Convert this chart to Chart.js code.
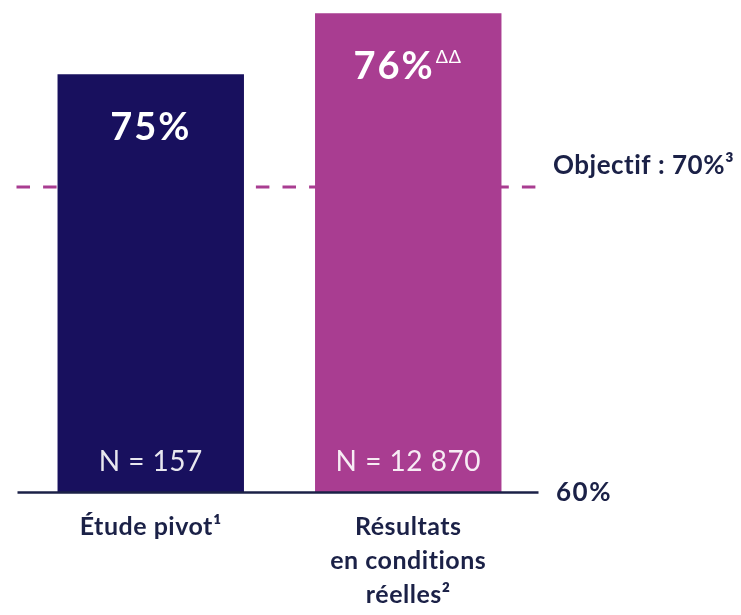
<!DOCTYPE html>
<html>
<head>
<meta charset="utf-8">
<script src="https://cdn.jsdelivr.net/npm/chart.js@4.4.1/dist/chart.umd.min.js"></script>
<style>
  html, body { margin: 0; padding: 0; background: #fff; }
  #wrap { width: 741px; height: 615px; }
</style>
</head>
<body>
<div id="wrap"><canvas id="chart"></canvas></div>
<script>
const categories = [['Étude pivot¹'], ['Résultats', 'en conditions', 'réelles²']];
const valueLabels = ['75%', '76%'];
const valueMarks = ['', 'ΔΔ'];
// bar tops as drawn in the source (not to scale), read against the 60% and 70% lines
const barValues = [73.7, 75.7];
const sampleSizes = ['N = 157', 'N = 12 870'];
const barColors = ['#18105e', '#a93d91'];
const axisMin = 60;
const axisMax = 76;
const targetValue = 70;
const targetLabel = 'Objectif : 70%³';
const baseLabel = '60%';

const navy = '#1b2147';
const font = 'Lato, "Open Sans", sans-serif';

const overlay = {
  id: 'overlay',
  beforeDatasetsDraw(chart) {
    const { ctx, chartArea, scales: { y } } = chart;
    const yt = y.getPixelForValue(targetValue);
    ctx.save();
    ctx.strokeStyle = '#a93d91';
    ctx.lineWidth = 3;
    ctx.setLineDash([13.5, 13.1]);
    ctx.beginPath();
    ctx.moveTo(chartArea.left - 5.5, yt);
    ctx.lineTo(chartArea.right + 2, yt);
    ctx.stroke();
    ctx.restore();
  },
  afterDatasetsDraw(chart) {
    const { ctx, chartArea, scales: { y } } = chart;
    const meta = chart.getDatasetMeta(0);
    const yBase = y.getPixelForValue(axisMin);
    const yt = y.getPixelForValue(targetValue);
    ctx.save();

    // baseline
    ctx.strokeStyle = navy;
    ctx.lineWidth = 2.5;
    ctx.beginPath();
    ctx.moveTo(chartArea.left - 4.5, yBase + 0.5);
    ctx.lineTo(chartArea.right + 1.5, yBase + 0.5);
    ctx.stroke();

    ctx.textBaseline = 'middle';
    meta.data.forEach((bar, i) => {
      // value label (with optional superscript mark)
      ctx.letterSpacing = '2px';
      ctx.font = 'bold 38px ' + font;
      const mainW = ctx.measureText(valueLabels[i]).width;
      ctx.letterSpacing = '1px';
      ctx.font = '18px ' + font;
      const markW = valueMarks[i] ? ctx.measureText(valueMarks[i]).width + 2 : 0;
      const startX = bar.x - (mainW + markW) / 2;
      const ty = bar.y + 54;
      ctx.fillStyle = '#ffffff';
      ctx.textAlign = 'left';
      ctx.letterSpacing = '2px';
      ctx.font = 'bold 38px ' + font;
      ctx.fillText(valueLabels[i], startX, ty);
      if (valueMarks[i]) {
        ctx.letterSpacing = '1px';
        ctx.font = '18px ' + font;
        ctx.fillText(valueMarks[i], startX + mainW + 1, ty - 10);
      }

      // sample size
      ctx.letterSpacing = '0.5px';
      ctx.textAlign = 'center';
      ctx.font = '28px ' + font;
      ctx.fillStyle = 'rgba(255,255,255,0.9)';
      ctx.fillText(sampleSizes[i], bar.x, yBase - 30);

      // category label
      ctx.letterSpacing = '0.5px';
      ctx.fillStyle = navy;
      ctx.font = 'bold 25px ' + font;
      categories[i].forEach((line, j) => {
        ctx.fillText(line, bar.x, yBase + 35 + j * 34);
      });
    });

    // right-side labels
    ctx.textAlign = 'left';
    ctx.fillStyle = navy;
    ctx.letterSpacing = '0.5px';
    ctx.font = 'bold 26px ' + font;
    ctx.fillText(targetLabel, chartArea.right + 16, yt - 21);
    ctx.letterSpacing = '1.5px';
    ctx.fillText(baseLabel, chartArea.right + 19, yBase + 1);
    ctx.restore();
  }
};

new Chart(document.getElementById('chart'), {
  type: 'bar',
  data: {
    labels: categories,
    datasets: [{
      data: barValues,
      backgroundColor: barColors,
      borderWidth: 0,
      barPercentage: 0.724,
      categoryPercentage: 1
    }]
  },
  options: {
    responsive: true,
    maintainAspectRatio: false,
    animation: false,
    layout: { padding: { left: 22, right: 204, top: 4, bottom: 123 } },
    plugins: { legend: { display: false }, tooltip: { enabled: false } },
    scales: {
      x: { display: false },
      y: { display: false, min: axisMin, max: axisMax }
    }
  },
  plugins: [overlay]
});
</script>
</body>
</html>
